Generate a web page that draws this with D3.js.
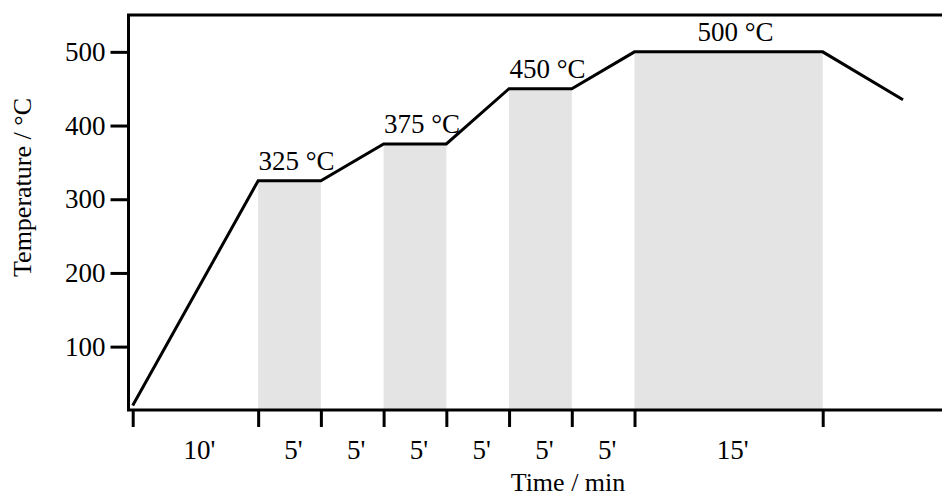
<!DOCTYPE html>
<html>
<head>
<meta charset="utf-8">
<script src="https://cdn.jsdelivr.net/npm/d3@7/dist/d3.min.js"></script>
<style>
  body { margin: 0; background: #fff; }
  svg text { font-family: 'Liberation Serif', 'Times New Roman', serif; fill: #000; }
</style>
</head>
<body>
<div class="page"></div>
<script>
// temperature program
var times = [0, 10, 15, 20, 25, 30, 35, 40, 55, 61.4];
var temps = [20, 325, 325, 375, 375, 450, 450, 500, 500, 435];

// isothermal holds (shaded)
var holdStart = [10, 20, 30, 40];
var holdEnd = [15, 25, 35, 55];
var holdTemp = [325, 375, 450, 500];
var holdLabels = ['325 °C', '375 °C', '450 °C', '500 °C'];

// x ticks and the duration labels between them
var xTicks = [0, 10, 15, 20, 25, 30, 35, 40, 55];
var durLabels = ["10'", "5'", "5'", "5'", "5'", "5'", "5'", "15'"];
var yTicks = [100, 200, 300, 400, 500];

var dim = {width: 942, height: 498},
    frame = {left: 128.5, top: 15, bottom: 410},
    fs = '27px';

var xScale = d3.scaleLinear().domain([0, 55]).range([132.7, 822.7]);
var yScale = d3.scaleLinear().domain([14, 550]).range([frame.bottom, frame.top]);

var svg = d3.select('.page').append('svg')
  .attr('width', dim.width)
  .attr('height', dim.height);

// shaded holds
svg.selectAll('rect.hold').data(holdStart)
  .enter()
  .append('rect')
  .attr('class', 'hold')
  .attr('x', function(d) { return xScale(d); })
  .attr('width', function(d, i) { return xScale(holdEnd[i]) - xScale(d); })
  .attr('y', function(d, i) { return yScale(holdTemp[i]); })
  .attr('height', function(d, i) { return frame.bottom - yScale(holdTemp[i]); })
  .style('fill', '#e4e4e4');

// profile line
var line = d3.line()
  .x(function(d) { return xScale(d); })
  .y(function(d, i) { return yScale(temps[i]); });

svg.append('path')
  .datum(times)
  .attr('d', line)
  .style('fill', 'none')
  .style('stroke', '#000')
  .style('stroke-width', 3);

// hold labels
svg.selectAll('text.hold-label').data(holdLabels)
  .enter()
  .append('text')
  .attr('class', 'hold-label')
  .attr('x', function(d, i) { return (xScale(holdStart[i]) + xScale(holdEnd[i])) / 2 + 7; })
  .attr('y', function(d, i) { return yScale(holdTemp[i]) - 11; })
  .attr('text-anchor', 'middle')
  .style('font-size', fs)
  .text(function(d) { return d; });

// axes
var xAxis = d3.axisBottom(xScale).tickValues(xTicks).tickSize(17).tickFormat('');
var yAxis = d3.axisLeft(yScale).tickValues(yTicks).tickSize(18).tickPadding(5);

var gx = svg.append('g')
  .attr('transform', 'translate(0,' + frame.bottom + ')')
  .call(xAxis);
var gy = svg.append('g')
  .attr('transform', 'translate(' + frame.left + ',0)')
  .call(yAxis);

[gx, gy].forEach(function(g) {
  g.select('.domain').remove();
  g.selectAll('line').style('stroke', '#000').style('stroke-width', 3);
  g.selectAll('text').style('font-size', fs).style('font-family', "'Liberation Serif', serif");
});

// frame: left, top and bottom (open on the right)
svg.append('path')
  .attr('d', 'M' + dim.width + ',' + frame.top + 'H' + frame.left + 'V' + frame.bottom + 'H' + dim.width)
  .style('fill', 'none')
  .style('stroke', '#000')
  .style('stroke-width', 3);

// duration labels between ticks
svg.selectAll('text.dur').data(durLabels)
  .enter()
  .append('text')
  .attr('class', 'dur')
  .attr('x', function(d, i) { return (xScale(xTicks[i]) + xScale(xTicks[i + 1])) / 2 + 4; })
  .attr('y', 459)
  .attr('text-anchor', 'middle')
  .style('font-size', fs)
  .text(function(d) { return d; });

// axis titles
svg.append('text')
  .text('Time / min')
  .attr('x', 568)
  .attr('y', 491)
  .attr('text-anchor', 'middle')
  .style('font-size', '26px');

svg.append('text')
  .text('Temperature / °C')
  .attr('transform', 'translate(31,187.5) rotate(-90)')
  .attr('text-anchor', 'middle')
  .style('font-size', '26px');
</script>
</body>
</html>
